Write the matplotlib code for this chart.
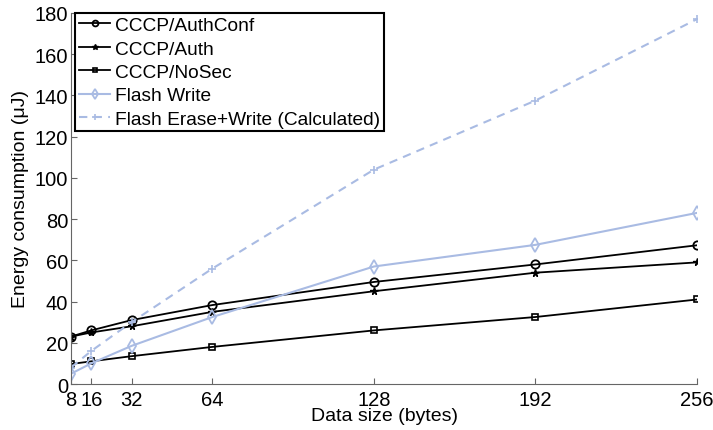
import matplotlib.pyplot as plt

plt.rcParams['font.family'] = ['Liberation Sans', 'DejaVu Sans']

sizes = [8, 16, 32, 64, 128, 192, 256]
auth_conf = [23, 26, 31, 38.3, 49.5, 58, 67.3]
auth = [23, 25, 28, 35, 45, 54, 59]
no_sec = [9.7, 11, 13.5, 18, 26, 32.5, 41]
flash_write = [5, 10, 18.5, 32.5, 57, 67.5, 83]
flash_erase_write = [8, 16, 30, 56, 104, 137.5, 177]

blue = "#a9bbe3"

fig = plt.figure(figsize=(7.13, 4.31), dpi=100)
ax = fig.add_axes([0.0996, 0.1067, 0.878, 0.861])

ax.plot(sizes, auth_conf, color="black", lw=1.3, marker="o", ms=6,
        mfc="none", mew=1.3, label="CCCP/AuthConf")
ax.plot(sizes, auth, color="black", lw=1.3, marker="*", ms=5.5,
        label="CCCP/Auth")
ax.plot(sizes, no_sec, color="black", lw=1.3, marker="s", ms=5,
        mfc="none", mew=1.2, label="CCCP/NoSec")
ax.plot(sizes, flash_write, color=blue, lw=1.5, marker="d", ms=7,
        mfc="none", mew=1.3, label="Flash Write")
ax.plot(sizes, flash_erase_write, color=blue, lw=1.5, ls=(0, (4, 3)),
        marker="+", ms=6, mew=1.2, label="Flash Erase+Write (Calculated)")

ax.set_xlim(8, 256)
ax.set_ylim(0, 180)
ax.set_xticks(sizes)
ax.set_yticks(range(0, 181, 20))
ax.tick_params(direction="in", labelsize=14.5, length=4, color="#666666")
ax.tick_params(axis="y", pad=2)
ax.tick_params(axis="x", pad=4)
for s in ["top", "right"]:
    ax.spines[s].set_visible(False)
for s in ["left", "bottom"]:
    ax.spines[s].set_color("#666666")

ax.set_xlabel("Data size (bytes)", fontsize=14, labelpad=-1)
ax.set_ylabel("Energy consumption (\u03bcJ)", fontsize=14, labelpad=4)

leg = ax.legend(loc="upper left", bbox_to_anchor=(0.007, 1.0),
                borderaxespad=0, fontsize=13.8, fancybox=False,
                edgecolor="black", framealpha=1, handlelength=1.6,
                handletextpad=0.25, borderpad=0.2, labelspacing=0.31,
                markerscale=0.7)
leg.get_frame().set_linewidth(1.5)

plt.savefig("out.png", dpi=100)
